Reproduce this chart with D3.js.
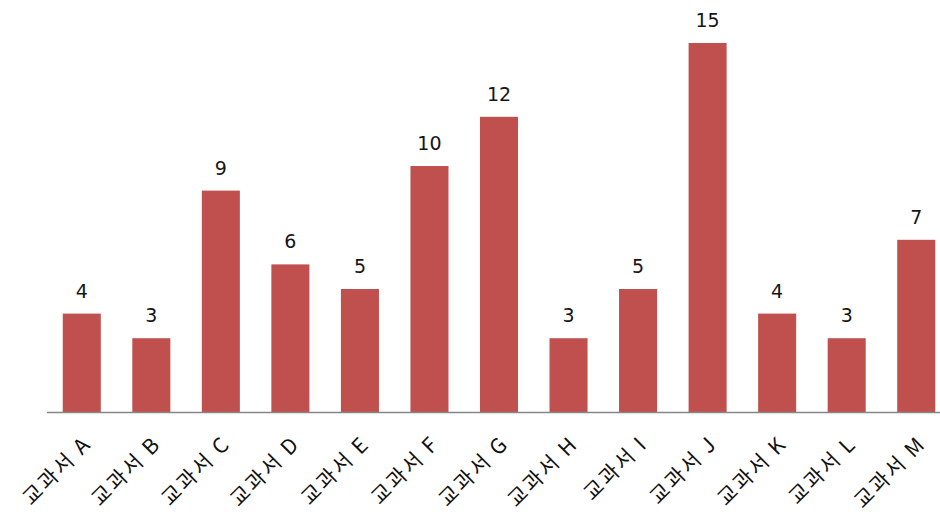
<!DOCTYPE html>
<html>
<head>
<meta charset="utf-8">
<script src="https://cdn.jsdelivr.net/npm/d3@7"></script>
<style>
  html, body { margin: 0; padding: 0; background: #fff; }
  svg { display: block; }
</style>
</head>
<body>
<svg id="chart" width="940" height="515"></svg>
<script>
// Textbook categories and their counts
const categories = ["교과서 A", "교과서 B", "교과서 C", "교과서 D", "교과서 E", "교과서 F", "교과서 G",
                    "교과서 H", "교과서 I", "교과서 J", "교과서 K", "교과서 L", "교과서 M"];
const values = [4, 3, 9, 6, 5, 10, 12, 3, 5, 15, 4, 3, 7];

const svg = d3.select("#chart");
const baseY = 412;

const x = d3.scaleBand()
  .domain(categories)
  .range([47, 951])
  .paddingInner(0.453)
  .paddingOuter(0.2265);

const y = d3.scaleLinear()
  .domain([0, 15])
  .range([baseY, 43]);

const data = categories.map((c, i) => ({ c, v: values[i] }));

// Bars
svg.append("g")
  .selectAll("rect")
  .data(data)
  .join("rect")
  .attr("x", d => x(d.c))
  .attr("y", d => y(d.v))
  .attr("width", x.bandwidth())
  .attr("height", d => baseY - y(d.v))
  .attr("fill", "#C0504D");

// Value labels above bars
svg.append("g")
  .selectAll("text")
  .data(data)
  .join("text")
  .attr("x", d => x(d.c) + x.bandwidth() / 2)
  .attr("y", d => y(d.v) - 16)
  .attr("text-anchor", "middle")
  .attr("font-family", "'DejaVu Sans', sans-serif")
  .attr("font-size", 19)
  .attr("fill", "#151515")
  .text(d => d.v);

// Category axis
const axis = d3.axisBottom(x).tickSize(0).tickPadding(0);
const gx = svg.append("g")
  .attr("transform", `translate(0,${baseY})`)
  .call(axis);

gx.select(".domain").remove();
gx.append("line")
  .attr("x1", 47).attr("x2", 940)
  .attr("y1", 0.5).attr("y2", 0.5)
  .attr("stroke", "#868686")
  .attr("stroke-width", 1.3);

gx.selectAll(".tick text")
  .attr("font-family", "'Noto Sans CJK KR', sans-serif")
  .attr("font-size", 21)
  .attr("letter-spacing", 2.3)
  .attr("fill", "#111")
  .attr("text-anchor", "end")
  .attr("dy", "0")
  .attr("y", 0)
  .attr("transform", "translate(11,33) rotate(-45)");
</script>
</body>
</html>
